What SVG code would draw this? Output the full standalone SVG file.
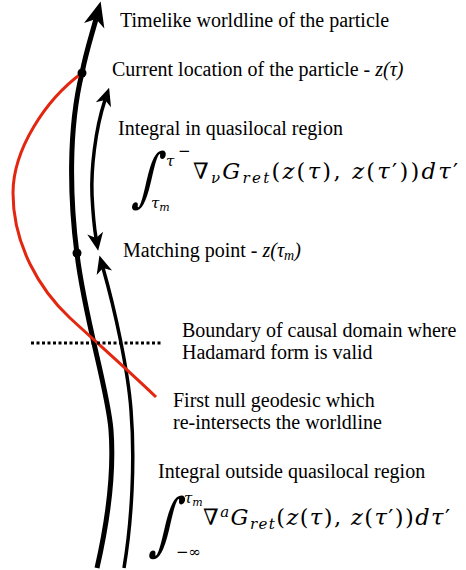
<svg xmlns="http://www.w3.org/2000/svg" width="466" height="570" viewBox="0 0 466 570">
<style>
.t{font-family:"Liberation Serif","Times New Roman",serif;font-size:20px;fill:#000}
.i{font-style:italic}
.m{font-family:"DejaVu Serif","Liberation Serif",serif;font-size:22.5px;fill:#000}
.s{font-size:15px}
.lim{font-size:15px}
.int{font-family:"DejaVu Serif",serif;fill:#000}
.thick{fill:none;stroke:#000;stroke-width:5;stroke-linecap:butt}
.thin{fill:none;stroke:#000;stroke-width:3.5}
.red{fill:none;stroke:#e3260f;stroke-width:3}
.dot{fill:#000}
</style>
<defs>
<marker id="ah" markerUnits="userSpaceOnUse" markerWidth="40" markerHeight="40" refX="0" refY="0" orient="auto" overflow="visible">
<path d="M18,0 L-7,-10.5 L0,0 L-7,10.5 Z" fill="#000"/>
</marker>
<marker id="ah2" markerUnits="userSpaceOnUse" markerWidth="30" markerHeight="30" refX="0" refY="0" orient="auto-start-reverse" overflow="visible">
<path d="M13,0 L-5,-8 L0,0 L-5,8 Z" fill="#000"/>
</marker>
</defs>
<g id="connectors">
<path id="worldline" class="thick" d="M97,568 C108,520 114,470 111,430 C108,390 85,320 77,254 C70,200 68,130 82,73 C86,52 92,34 96,19" marker-end="url(#ah)"/>
<path id="lower-integral" class="thin" d="M124,568 C132,520 135,460 131,410 C128,370 115,310 103,268" marker-end="url(#ah2)"/>
<path id="upper-integral" class="thin" d="M105,100 C95,130 91,170 92,195 C93,215 94,226 96,238" marker-start="url(#ah2)" marker-end="url(#ah2)"/>
<path id="null-geodesic" class="red" d="M82,73 C45,100 13,150 13,193 C13,245 40,290 70,318 C95,341 130,372 156,397"/>
<line id="boundary" x1="31" y1="343" x2="163" y2="343" stroke="#000" stroke-width="3" stroke-dasharray="3 2.5"/>
</g>
<g id="current-point"><circle class="dot" cx="82" cy="73" r="4.5"/></g>
<g id="matching-point"><circle class="dot" cx="77" cy="253" r="4.5"/></g>
<g id="label-worldline"><text class="t" x="120" y="27">Timelike worldline of the particle</text></g>
<g id="label-current"><text class="t" x="112" y="76">Current location of the particle - <tspan class="i">z(τ)</tspan></text></g>
<g id="label-quasilocal"><text class="t" x="118" y="135">Integral in quasilocal region</text></g>
<g id="formula-quasilocal">
<text class="int" transform="translate(145,199) skewX(-12) scale(0.75,1)" x="0" y="0" text-anchor="middle" style="font-size:64px">∫</text>
<text class="m i lim" x="166" y="166">τ</text>
<text class="m lim" x="178" y="156">−</text>
<text class="m i lim" x="151" y="208">τ<tspan style="font-size:11px" dy="3">m</tspan></text>
<text class="m" x="193" y="179" textLength="265" lengthAdjust="spacing">∇<tspan class="i s" dy="4">ν</tspan><tspan class="i" dy="-4">G</tspan><tspan class="i s" dy="4">ret</tspan><tspan dy="-4">(</tspan><tspan class="i">z</tspan>(<tspan class="i">τ</tspan>), <tspan class="i">z</tspan>(<tspan class="i">τ</tspan>′))<tspan class="i">dτ</tspan>′</text>
</g>
<g id="label-matching"><text class="t" x="123" y="257">Matching point - <tspan class="i">z(τ<tspan style="font-size:14px" dy="3">m</tspan><tspan dy="-3">)</tspan></tspan></text></g>
<g id="label-boundary"><text class="t" x="182" y="337">Boundary of causal domain where</text><text class="t" x="182" y="359">Hadamard form is valid</text></g>
<g id="label-null"><text class="t" x="173" y="407">First null geodesic which</text><text class="t" x="173" y="429">re-intersects the worldline</text></g>
<g id="label-outside"><text class="t" x="158" y="478">Integral outside quasilocal region</text></g>
<g id="formula-outside">
<text class="int" transform="translate(163,547) skewX(-12) scale(0.75,1)" x="0" y="0" text-anchor="middle" style="font-size:68px">∫</text>
<text class="m i lim" x="184" y="503">τ<tspan style="font-size:11px" dy="3">m</tspan></text>
<text class="m lim" x="176" y="557">−∞</text>
<text class="m" x="203" y="525" textLength="247" lengthAdjust="spacing">∇<tspan class="i s" dy="-8">a</tspan><tspan class="i" dy="8">G</tspan><tspan class="i s" dy="4">ret</tspan><tspan dy="-4">(</tspan><tspan class="i">z</tspan>(<tspan class="i">τ</tspan>), <tspan class="i">z</tspan>(<tspan class="i">τ</tspan>′))<tspan class="i">dτ</tspan>′</text>
</g>
</svg>
